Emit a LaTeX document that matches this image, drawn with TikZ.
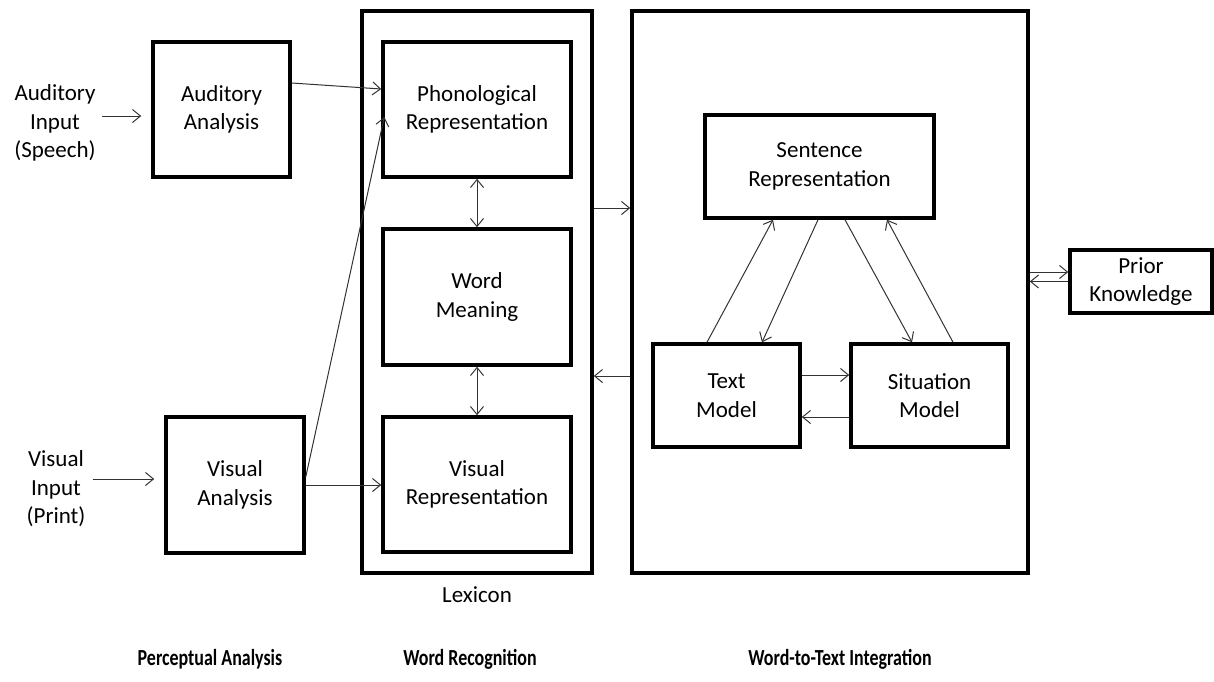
\documentclass[tikz,border=0pt]{standalone}
\usepackage{fontspec}
\setmainfont{Carlito}
\usetikzlibrary{arrows.meta,positioning}
\begin{document}
\begin{tikzpicture}[x=1pt,y=-1pt,
  font=\fontsize{23}{28.5}\selectfont,
  box/.style={draw=black,line width=3.5pt,rectangle,align=center,inner sep=0pt},
  lbl/.style={align=center,inner sep=0pt},
  blbl/.style={align=center,inner sep=0pt,font=\fontsize{23}{27}\selectfont\bfseries},
  arr/.style={draw=black!80,line width=1pt,-{Straight Barb[length=8pt,width=13pt,line width=1pt]}},
  darr/.style={draw=black!80,line width=1pt,{Straight Barb[length=8pt,width=13pt,line width=1pt]}-{Straight Barb[length=8pt,width=13pt,line width=1pt]}}
]
\useasboundingbox (0,0) rectangle (1214,681);
% outer boxes
\node[box,minimum width=230pt,minimum height=562pt] (lex) at (477,292) {};
\node[box,minimum width=396pt,minimum height=562pt] (w2t) at (830,292) {};
% left column
\node[lbl] (audIn) at (55,123) {Auditory\\Input\\(Speech)};
\node[lbl] (visIn) at (56,489) {Visual\\Input\\(Print)};
\node[box,minimum width=137pt,minimum height=135pt] (audA) at (221.5,109.5) {Auditory\\Analysis};
\node[box,minimum width=138pt,minimum height=136pt] (visA) at (235,485) {Visual\\Analysis};
% lexicon
\node[box,minimum width=188pt,minimum height=135pt] (phon) at (477,109.5) {Phonological\\Representation};
\node[box,minimum width=188pt,minimum height=136pt] (wm) at (477,297) {Word\\Meaning};
\node[box,minimum width=188pt,minimum height=135pt] (visR) at (477,484.5) {Visual\\Representation};
% word-to-text
\node[box,minimum width=229pt,minimum height=103pt] (sent) at (819.5,166.5) {Sentence\\Representation};
\node[box,minimum width=147pt,minimum height=103pt] (textM) at (726.5,395.5) {Text\\Model};
\node[box,minimum width=157pt,minimum height=103pt] (sitM) at (929.5,395.5) {Situation\\Model};
\node[box,minimum width=142pt,minimum height=63pt] (prior) at (1141,281.5) {Prior\\Knowledge};
% labels
\node[lbl] (lexL) at (477,595) {Lexicon};
\node[blbl] (pa) at (210,659) {\scalebox{0.78}[1]{Perceptual Analysis}};
\node[blbl] (wr) at (470,659) {\scalebox{0.78}[1]{Word Recognition}};
\node[blbl] (wti) at (840,659) {\scalebox{0.78}[1]{Word-to-Text Integration}};
% arrows
\draw[arr,shorten >=10pt] ([xshift=6pt,yshift=7pt]audIn.east) -- ([yshift=7pt]audIn.east -| audA.west);
\draw[arr,shorten >=10pt] ([xshift=7pt,yshift=10pt]visIn.east) -- ([yshift=10pt]visIn.east -| visA.west);
\draw[arr] ([yshift=26.5pt]audA.east) -- ([yshift=20.5pt]phon.west);
\draw[arr] ([yshift=8pt]visA.east) -- ([xshift=3pt,yshift=-7.5pt]phon.west);
\draw[arr] (visA.east) -- (visA.east -| visR.west);
\draw[darr] (phon.south) -- (wm.north);
\draw[darr] (wm.south) -- (visR.north);
\draw[arr] ([yshift=84pt]lex.east) -- ([yshift=84pt]lex.east -| w2t.west);
\draw[arr] ([yshift=-84pt]w2t.west) -- ([yshift=-84pt]w2t.west -| lex.east);
\draw[arr] ([xshift=-19.5pt]textM.north) -- ([xshift=-46.5pt]sent.south);
\draw[arr] ([xshift=-1.5pt]sent.south) -- ([xshift=35.5pt]textM.north);
\draw[arr] ([xshift=25.5pt]sent.south) -- ([xshift=-17.5pt]sitM.north);
\draw[arr] ([xshift=23.5pt]sitM.north) -- ([xshift=67.5pt]sent.south);
\draw[arr] ([yshift=20.5pt]textM.east) -- ([yshift=20.5pt]textM.east -| sitM.west);
\draw[arr] ([yshift=-21.5pt]sitM.west) -- ([yshift=-21.5pt]sitM.west -| textM.east);
\draw[arr] ([yshift=20pt]w2t.east) -- ([yshift=20pt]w2t.east -| prior.west);
\draw[arr] (prior.west) -- (prior.west -| w2t.east);
\end{tikzpicture}
\end{document}
